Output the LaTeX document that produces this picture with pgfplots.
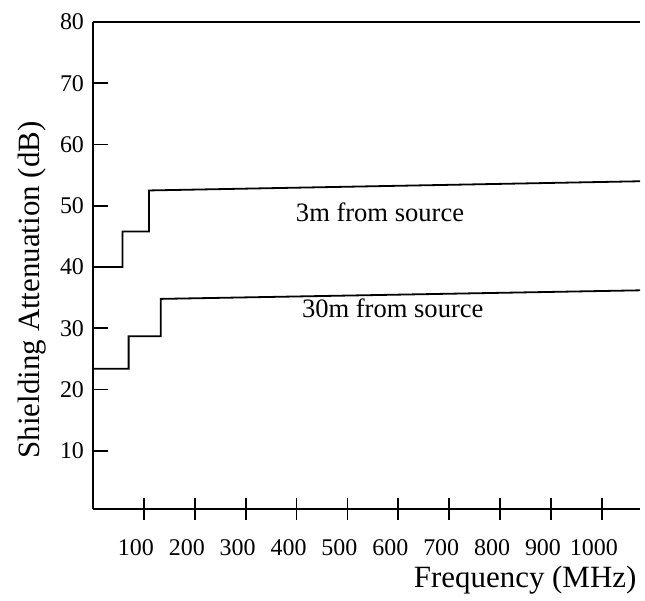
\documentclass[border=0pt]{standalone}
\usepackage{fontspec}
\setmainfont{Liberation Serif}
\usepackage{pgfplots}
\pgfplotsset{compat=1.18}
\begin{document}
\begin{tikzpicture}
\pgfplotsset{shared/.style={
  scale only axis, width=274pt, height=244pt,
  xmin=0, xmax=1075, ymin=0.5, ymax=80,
  xtick={100,200,...,1000},
}}
% main axis: frame on the left/bottom, y ticks inside, data
\begin{axis}[shared, name=main,
  axis lines=left,
  axis line style={line width=0.9pt,-},
  ytick={10,20,...,80},
  tick align=inside, major tick length=7.5pt,
  tick style={line width=0.9pt, black},
  xtick style={draw=none},
  xticklabels={100,200,300,400,500,600,700,800,900,1000},
  xticklabel style={font=\fontsize{12}{13}\selectfont, xshift=-4pt, yshift=-12pt},
  yticklabel style={font=\fontsize{12}{13}\selectfont, xshift=-1pt},
  /pgf/number format/assume math mode=true,
  xlabel={Frequency (MHz)},
  ylabel={Shielding Attenuation (dB)},
  label style={font=\fontsize{15.5}{18}\selectfont},
  xlabel style={at={(rel axis cs:0.79,-0.145)}, anchor=center},
  ylabel style={at={(rel axis cs:-0.112,0.45)}, anchor=center, rotate=0},
]
\addplot[black, line width=0.9pt] coordinates {
  (0,40) (58,40) (58,45.8) (110,45.8) (110,52.5) (1075,54.0)};
\addplot[black, line width=0.9pt] coordinates {
  (0,23.4) (70,23.4) (70,28.7) (133,28.7) (133,34.8) (1075,36.2)};
\draw[line width=0.9pt] (rel axis cs:0,1) -- (rel axis cs:1,1);
\node[anchor=west, font=\fontsize{13.3}{15}\selectfont] at (axis cs:385,49.0) {3m from source};
\node[anchor=west, font=\fontsize{13.3}{15}\selectfont] at (axis cs:397,33.2) {30m from source};
\end{axis}
% overlay axis: x ticks that cross the bottom line
\begin{axis}[shared,
  hide y axis,
  axis x line=bottom,
  axis line style={draw=none},
  tick align=center, major tick length=11pt,
  xtick style={line width=0.9pt, black},
  xticklabels={},
]
\end{axis}
% white margins as in the scan
\path ([shift={(-46.6pt,-44.9pt)}]main.south west) rectangle ([shift={(2.5pt,11pt)}]main.north east);
\end{tikzpicture}
\end{document}
